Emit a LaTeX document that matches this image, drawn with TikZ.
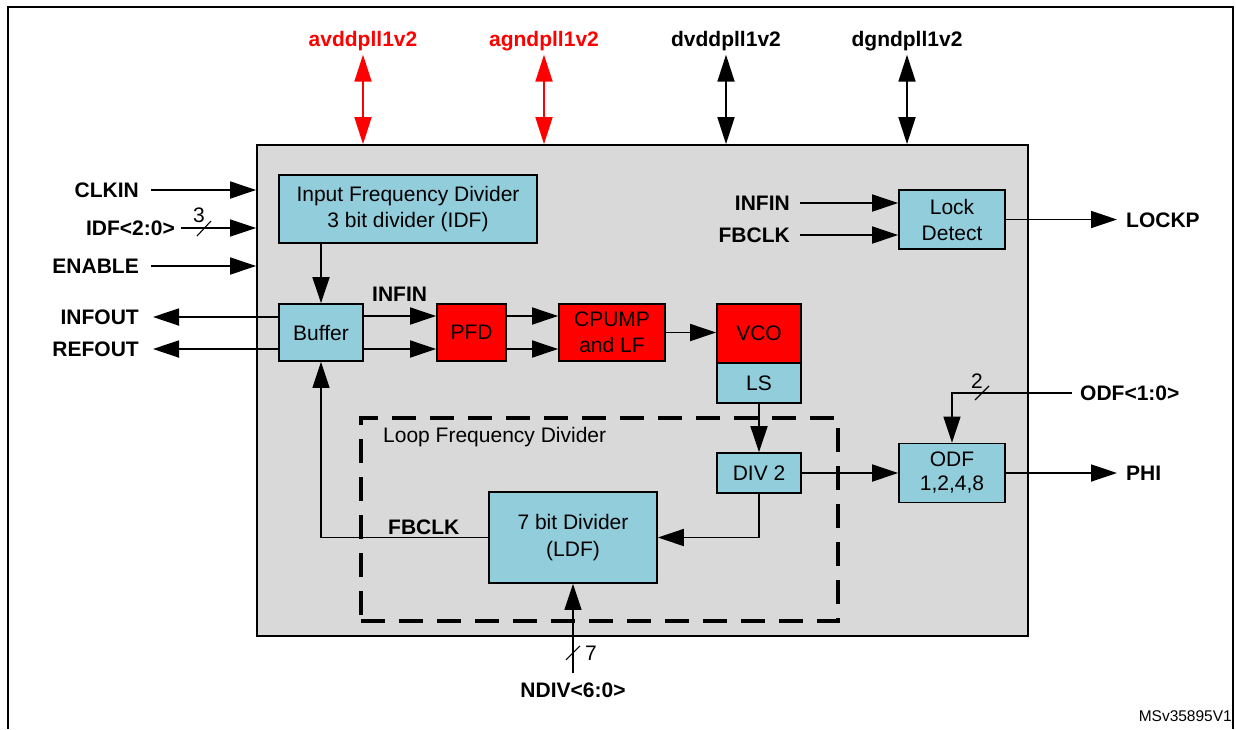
\documentclass[tikz,border=0pt]{standalone}
\usepackage{fontspec}
\setmainfont{Liberation Sans}
\usetikzlibrary{arrows.meta,calc}
\definecolor{boxblue}{RGB}{146,205,220}
\definecolor{graybg}{RGB}{217,217,217}
\definecolor{pinred}{RGB}{255,0,0}
\begin{document}
\begin{tikzpicture}[x=1pt,y=-1pt,
  blk/.style={draw=black, line width=1.8pt, fill=boxblue, inner sep=0pt, align=center, font=\fontsize{21}{26}\selectfont},
  redblk/.style={blk, fill=pinred},
  lbl/.style={font=\bfseries\fontsize{21}{24}\selectfont, inner sep=0pt, text height=15pt, text depth=0pt},
  num/.style={font=\fontsize{21}{24}\selectfont, inner sep=0pt},
  arr/.style={line width=1.8pt, -{Triangle[length=26pt,width=17pt]}},
  darr/.style={line width=1.8pt, {Triangle[length=27pt,width=17pt]}-{Triangle[length=27pt,width=17pt]}},
  thinln/.style={line width=1.1pt}]
\useasboundingbox (0,0) rectangle (1236,729);
\fill[white] (0,0) rectangle (1236,729);
% outer frame
\draw[line width=1.6pt] (8,729) -- (8,7) -- (1233,7) -- (1233,729);
% chip body
\node[draw, line width=1.8pt, fill=graybg, minimum width=771pt, minimum height=491pt, inner sep=0pt] (chip) at (642.5,390.5) {};
% loop divider region
\node[draw, line width=3.8pt, dash pattern=on 24pt off 14pt, minimum width=477pt, minimum height=203pt, inner sep=0pt] (loop) at (599.5,519.5) {};
\node[num, anchor=west] (looplbl) at (383,437) {Loop Frequency Divider};

% blocks
\node[blk, minimum width=258pt, minimum height=68pt] (idf) at (408,209) {Input Frequency Divider\\3 bit divider (IDF)};
\node[blk, minimum width=84pt, minimum height=57pt] (buffer) at (321,332.5) {Buffer};
\node[redblk, minimum width=69pt, minimum height=57pt] (pfd) at (471.5,332.5) {PFD};
\node[redblk, minimum width=106pt, minimum height=57pt] (cpump) at (612,332.5) {CPUMP\\and LF};
\node[redblk, minimum width=84pt, minimum height=59pt] (vco) at (759,333.5) {VCO};
\node[blk, minimum width=84pt, minimum height=40pt] (ls) at (759,383) {LS};
\node[blk, minimum width=106pt, minimum height=59pt] (lock) at (952,219.5) {Lock\\Detect};
\node[blk, minimum width=84pt, minimum height=40pt] (div2) at (759,473) {DIV 2};
\node[blk, minimum width=106pt, minimum height=59pt, font=\fontsize{21}{24}\selectfont] (odf) at (952,473) {ODF\\1,2,4,8};
\node[blk, minimum width=168pt, minimum height=91pt, font=\fontsize{21}{27}\selectfont] (ldf) at (573,537.5) {7 bit Divider\\(LDF)};

% labels
\node[lbl, anchor=east] (clkin) at (139,190) {CLKIN};
\node[lbl, anchor=east] (idfin) at (175,228) {IDF<2:0>};
\node[lbl, anchor=east] (enable) at (139,266) {ENABLE};
\node[lbl, anchor=east] (infout) at (139,317) {INFOUT};
\node[lbl, anchor=east] (refout) at (139,349) {REFOUT};
\node[lbl, anchor=west] (infin1) at (372,294) {INFIN};
\node[lbl, anchor=east] (infin2) at (790,203) {INFIN};
\node[lbl, anchor=east] (fbclk2) at (790,235) {FBCLK};
\node[lbl, anchor=west] (lockp) at (1126,219.5) {LOCKP};
\node[lbl, anchor=west] (odfsel) at (1080,393) {ODF<1:0>};
\node[lbl, anchor=west] (phi) at (1126,473) {PHI};
\node[lbl, anchor=west] (fbclk1) at (388,527) {FBCLK};
\node[lbl] (ndiv) at (573,690) {NDIV<6:0>};
\node[lbl, text=pinred] (avdd) at (363,39) {avddpll1v2};
\node[lbl, text=pinred] (agnd) at (544,39) {agndpll1v2};
\node[lbl] (dvdd) at (726,39) {dvddpll1v2};
\node[lbl] (dgnd) at (907,39) {dgndpll1v2};
\node[num] (n3) at (199,215) {3};
\node[num] (n2) at (977,381) {2};
\node[num] (n7) at (591,653) {7};
\node[anchor=east, font=\fontsize{15.5}{18}\selectfont, inner sep=0pt] (msv) at (1232,716) {MSv35895V1};

% supply pins
\draw[darr, pinred] ([yshift=-8pt]avdd.south) -- (avdd.south |- chip.north);
\draw[darr, pinred] ([yshift=-8pt]agnd.south) -- (agnd.south |- chip.north);
\draw[darr] ([yshift=-8pt]dvdd.south) -- (dvdd.south |- chip.north);
\draw[darr] ([yshift=-8pt]dgnd.south) -- (dgnd.south |- chip.north);

% inputs on the left
\draw[arr] ([xshift=12pt]clkin.east) -- (clkin.east -| chip.west);
\draw[arr, thinln] ([xshift=6pt]idfin.east) -- (idfin.east -| chip.west);
\draw[thinln] ($(idfin.east)+(22,8)$) -- ++(14,-15);
\draw[arr] ([xshift=12pt]enable.east) -- (enable.east -| chip.west);
% outputs on the left
\draw[arr] (infout.east -| buffer.west) -- ([xshift=14pt]infout.east);
\draw[arr] (refout.east -| buffer.west) -- ([xshift=14pt]refout.east);

% main chain
\draw[arr] (buffer.north |- idf.south) -- (buffer.north);
\draw[arr] ($(buffer.east)+(0,-16.5)$) -- ($(pfd.west)+(0,-16.5)$);
\draw[arr] ($(buffer.east)+(0,16.5)$) -- ($(pfd.west)+(0,16.5)$);
\draw[arr] ($(pfd.east)+(0,-16.5)$) -- ($(cpump.west)+(0,-16.5)$);
\draw[arr] ($(pfd.east)+(0,16.5)$) -- ($(cpump.west)+(0,16.5)$);
\draw[arr] (cpump.east) -- (cpump.east -| vco.west);
\draw[arr] (ls.south) -- (div2.north);
\draw[arr] (div2.south) |- (ldf.east);
\draw[arr, thinln] (ldf.west) -- (ldf.west -| buffer.south) -- (buffer.south);
\draw[arr] (div2.east) -- (odf.west);
\draw[arr] (odf.east) -- ([xshift=-9pt]phi.west);

% lock detect
\draw[arr] ([xshift=10pt]infin2.east) -- (infin2.east -| lock.west);
\draw[arr] ([xshift=10pt]fbclk2.east) -- (fbclk2.east -| lock.west);
\draw[arr] (lock.east) -- ([xshift=-9pt]lockp.west);

% ODF select bus
\coordinate (odfc) at (odf.north |- odfsel.west);
\draw[arr, thinln] ([xshift=-8pt]odfsel.west) -- (odfc) -- (odf.north);
\draw[thinln] ($(odfc)+(23,7)$) -- ++(14,-14);

% NDIV bus
\draw[arr, thinln] ([yshift=9pt]ndiv.north) -- (ldf.south);
\draw[thinln] ($(ldf.south)+(-7,76)$) -- ++(14,-14);
\end{tikzpicture}
\end{document}
